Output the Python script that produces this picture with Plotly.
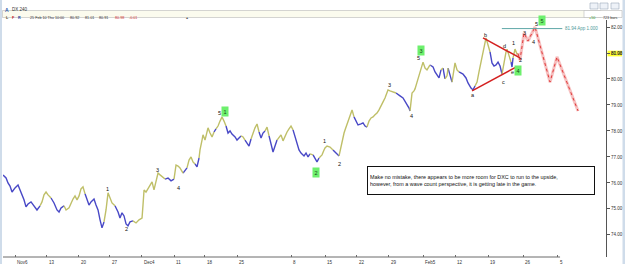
import plotly.graph_objects as go

# ---------------- data (trading days from Nov 6, price) ----------------
days = [-1.85, -1.38, -1.08, -0.77, -0.46, 0.0, 0.46, 0.77, 1.08, 1.38, 1.69, 2.0, 2.46, 2.92, 3.38, 3.85,
        4.15, 4.46, 4.77, 5.08, 5.54, 6.0, 6.46, 6.77, 7.08, 7.54, 7.85, 8.31, 8.62, 8.92, 9.23, 9.54,
        9.85, 10.15, 10.46, 10.77, 11.08, 11.38, 11.69, 12.15, 12.46, 12.77, 13.08, 13.38, 13.69, 14.0,
        14.31, 14.62, 14.92, 15.38, 15.85, 16.15, 16.46, 16.77, 17.08, 17.38, 17.69, 18.15, 18.62, 19.08,
        19.54, 19.69, 19.85, 20.15, 20.46, 20.77, 21.08, 21.38, 21.69, 22.0,
        22.31, 22.62, 23.08, 23.54, 24.0, 24.46, 24.77, 25.08, 25.38, 25.85, 26.15, 26.46, 26.77, 27.08,
        27.38, 27.69, 28.0, 28.31, 28.46, 28.77, 28.92, 29.23, 29.54, 29.69, 30.0, 30.31, 30.62, 30.92,
        31.23, 31.54, 31.85, 32.15, 32.46, 32.77, 33.08, 33.38, 33.85, 34.15, 34.46, 34.77, 35.08, 35.38,
        35.69, 36.0, 36.31, 36.62, 36.92, 37.23, 37.54, 37.85, 38.15, 38.46, 38.77, 39.08, 39.38, 39.69,
        40.0, 40.31, 40.62, 40.92, 41.23, 41.54, 41.85, 42.15, 42.46, 42.77, 43.08, 43.38, 43.69, 44.0,
        44.46, 44.77, 45.08,
        45.38, 45.85, 46.15, 46.46, 46.77, 47.23, 47.54, 47.69, 48.0, 48.46, 48.92, 49.23, 49.54, 49.85,
        50.15, 50.31, 50.62, 50.77, 51.08, 51.23, 51.54, 51.85, 52.15, 52.46, 52.77, 53.23, 53.54, 53.85,
        54.15, 54.46, 54.77, 55.08, 55.38, 55.69, 56.0, 56.31, 56.62, 56.92, 57.23, 57.38, 57.69, 58.15,
        58.62, 58.92, 59.23, 59.69, 60.0, 60.31, 60.62, 60.77, 60.92, 61.08, 61.38, 61.54, 61.85, 62.15,
        62.46, 62.77, 63.08, 63.38, 63.85, 64.31, 64.62, 64.92, 65.23, 65.54, 65.85, 66.15, 66.46, 66.62,
        66.92, 67.23, 67.54, 67.69, 68.0, 68.31, 68.62, 68.92, 69.38, 69.69, 70.15, 70.46, 70.77, 71.08,
        71.38, 71.54, 71.85, 72.0, 72.31, 72.46, 72.77, 73.08, 73.38, 73.69, 74.0, 74.31, 74.62, 74.92,
        75.23, 75.54, 75.69, 76.0, 76.31, 76.46, 76.62, 76.92, 77.23, 77.38]
prices = [76.31, 76.19, 76.00, 75.88, 75.65, 75.81, 75.92, 75.73, 75.58, 75.35, 75.08, 75.19, 75.27, 75.12, 74.96, 75.12,
          75.27, 75.54, 75.65, 75.54, 75.42, 75.23, 74.96, 74.88, 75.04, 75.12, 74.96, 75.04, 75.23, 75.38, 75.50, 75.35,
          75.50, 75.77, 75.85, 75.58, 75.35, 75.15, 75.27, 75.38, 75.15, 74.96, 74.58, 74.27, 74.50, 74.96,
          75.62, 75.42, 75.23, 75.12, 74.88, 74.65, 74.85, 74.73, 74.42, 74.35, 74.50, 74.54, 74.46, 74.58,
          74.65, 75.15, 75.73, 75.65, 75.77, 75.92, 76.04, 75.73, 76.12, 76.38,
          76.31, 76.23, 76.15, 76.19, 76.08, 76.15, 76.69, 76.65, 76.58, 76.38, 76.46, 76.58, 76.88, 77.00,
          76.81, 76.73, 76.62, 76.96, 77.27, 77.65, 77.85, 77.65, 77.96, 78.12, 77.92, 77.77, 77.96, 78.08,
          78.19, 78.38, 78.54, 78.38, 78.19, 77.92, 78.00, 77.88, 77.77, 77.65, 77.73, 77.81, 77.77, 77.65,
          77.54, 77.42, 77.69, 77.96, 78.12, 78.27, 77.96, 77.73, 77.92, 78.00, 78.15, 77.81, 77.46, 77.19,
          77.42, 77.65, 77.77, 77.85, 77.62, 77.81, 77.96, 78.08, 78.19, 78.04, 77.77, 77.46, 77.27, 77.15,
          77.04, 77.15, 77.00,
          77.12, 77.08, 76.92, 76.81, 76.96, 77.08, 77.27, 77.35, 77.42, 77.38, 77.27, 77.19, 77.12, 77.04,
          77.42, 77.65, 77.92, 78.04, 78.27, 78.42, 78.62, 78.81, 78.54, 78.38, 78.23, 78.27, 78.31, 78.19,
          78.15, 78.38, 78.50, 78.54, 78.62, 78.69, 78.81, 79.00, 79.12, 79.27, 79.46, 79.58, 79.54, 79.50,
          79.46, 79.42, 79.35, 79.27, 79.15, 79.04, 78.88, 78.77, 79.27, 79.46, 79.54, 79.62, 79.88, 80.12,
          80.35, 80.65, 80.42, 80.35, 80.54, 80.46, 80.27, 80.15, 80.04, 80.35, 80.42, 80.00, 80.12, 80.42,
          80.15, 79.88, 80.35, 80.62, 80.35, 80.27, 80.23, 80.19, 80.04, 79.85, 79.65, 79.58, 79.73, 79.88,
          80.27, 80.46, 80.81, 80.92, 81.42, 81.58, 81.31, 81.04, 80.62, 80.50, 80.54, 80.65, 80.50, 80.19,
          80.65, 81.04, 81.15, 80.92, 80.65, 80.46, 80.81, 81.15, 80.96, 80.98]

proj_days = [77.38, 77.69, 78.31, 78.92, 80.0, 82.31, 83.38, 86.62]
proj_prices = [80.98, 80.73, 81.77, 81.46, 82.0, 79.88, 80.85, 78.77]

tri_upper_days = [72.0, 77.69]
tri_upper_prices = [81.58, 80.81]
tri_lower_days = [70.31, 77.08]
tri_lower_prices = [79.54, 80.46]

target_price = 81.94
target_days = [74.9, 84.2]
target_label = "81.94 App 1.000"

wave_text = ["1", "2", "3", "4", "5", "1", "2", "3", "4", "5", "a", "b", "c", "d", "e", "1", "2", "3", "4", "5"]
wave_day = [14.15, 17.08, 21.85, 25.08, 31.4, 47.54, 49.85, 57.54, 60.92, 62.0, 70.46, 72.31, 75.08, 75.23, 76.46,
            76.62, 77.69, 78.31, 79.69, 80.15]
wave_price = [75.77, 74.23, 76.50, 75.81, 78.69, 77.62, 76.73, 79.77, 78.58, 80.81, 79.38, 81.69, 79.88, 81.27, 80.27,
              81.38, 80.73, 81.77, 81.42, 82.12]

box_text = ["1", "2", "3", "4", "5"]
box_day = [32.31, 46.31, 62.46, 77.38, 81.08]
box_price = [78.73, 76.42, 81.08, 80.31, 82.27]

tick_days = [0, 4.9, 9.8, 14.6, 19.5, 24.5, 29.2, 34.2, 42.5, 47.7, 52.6, 57.5, 62.8, 67.7, 72.8, 78.2, 83.5]
tick_labels = ["Nov6", "13", "20", "27", "Dec4", "11", "18", "25", "8", "15", "22", "29", "Feb5", "12", "19", "26", "5"]
price_ticks = [74, 75, 76, 77, 78, 79, 80, 81, 82]
last_price = 80.98

note = ("Make no mistake, there appears to be more room for DXC to run to the upside,<br>"
        "however, from a wave count perspective, it is getting late in the game.")

# ---------------- figure ----------------
BLUE = "#4848c6"
OLIVE = "#bfbf68"
FONT = "Liberation Sans"

def PX(x):
    return (x - 3) / 603.0

def PY(y):
    return (257 - y) / 237.0

segs = {BLUE: ([], []), OLIVE: ([], [])}
for i in range(1, len(days)):
    ref = prices[max(0, i - 4)]
    c = BLUE if prices[i] < ref else OLIVE
    xs, ys = segs[c]
    if not xs or xs[-1] != days[i - 1]:
        if xs:
            xs.append(None)
            ys.append(None)
        xs.append(days[i - 1])
        ys.append(prices[i - 1])
    xs.append(days[i])
    ys.append(prices[i])

fig = go.Figure()
for c, (xs, ys) in segs.items():
    fig.add_trace(go.Scatter(x=xs, y=ys, mode="lines", line=dict(color=c, width=1.4),
                             hoverinfo="skip", showlegend=False))

fig.add_trace(go.Scatter(x=proj_days, y=proj_prices, mode="lines",
                         line=dict(color="rgba(240,150,150,0.6)", width=3), showlegend=False))
fig.add_trace(go.Scatter(x=proj_days, y=proj_prices, mode="lines",
                         line=dict(color="#e03a3a", width=1, dash="dot"), showlegend=False))
fig.add_trace(go.Scatter(x=tri_upper_days, y=tri_upper_prices, mode="lines",
                         line=dict(color="#d42020", width=1.5), showlegend=False))
fig.add_trace(go.Scatter(x=tri_lower_days, y=tri_lower_prices, mode="lines",
                         line=dict(color="#d42020", width=1.5), showlegend=False))
fig.add_trace(go.Scatter(x=target_days, y=[target_price, target_price], mode="lines",
                         line=dict(color="#5fa8a8", width=1), showlegend=False))

ann = []
for t, d, p in zip(wave_text, wave_day, wave_price):
    ann.append(dict(x=d, y=p, xref="x", yref="y", text=t, showarrow=False,
                    font=dict(family=FONT, size=5.5, color="#111111")))
for t, d, p in zip(box_text, box_day, box_price):
    ann.append(dict(x=d, y=p, xref="x", yref="y", text=t, showarrow=False, bgcolor="#6df06d",
                    borderpad=1.5, font=dict(family=FONT, size=5.5, color="#1a4a1a")))
ann.append(dict(x=target_days[1] + 0.1, y=target_price, xref="x", yref="y", text=target_label,
                showarrow=False, xanchor="left", font=dict(family=FONT, size=4.5, color="#4f9a9a")))
for d, t in zip(tick_days, tick_labels):
    ann.append(dict(x=d, y=0, xref="x", yref="paper", text=t, showarrow=False, xanchor="left",
                    yanchor="top", yshift=-0.5, font=dict(family=FONT, size=4.5, color="#333333")))
# note box
ann.append(dict(x=PX(367), y=PY(166), xref="paper", yref="paper", xanchor="left", yanchor="top",
                text=note, showarrow=False, align="left", width=222, height=23,
                bgcolor="white", bordercolor="#111111", borderwidth=1, borderpad=2,
                font=dict(family=FONT, size=5.4, color="#111111")))
# current price tag on axis
ann.append(dict(x=PX(609), y=last_price, xref="paper", yref="y", xanchor="left", text=f"{last_price:.2f}",
                showarrow=False, font=dict(family=FONT, size=4.5, color="#333333")))
# header texts
ann.append(dict(x=PX(10), y=PY(5), xref="paper", yref="paper", xanchor="left", text="DX 240",
                showarrow=False, font=dict(family=FONT, size=4.5, color="#333333")))
ann.append(dict(x=PX(3), y=PY(5), xref="paper", yref="paper", xanchor="left", text="<b>A</b>",
                showarrow=False, font=dict(family=FONT, size=5, color="#2a5aa8")))
hdr = [("<b>L</b>", 4, "#555522"), ("<b>F</b>", 10, "#c02020"), ("<b>R</b>", 16, "#2040a0"),
       ("25 Feb 10 Thu 10:00", 28, "#333333"), ("80.92", 68, "#333333"), ("81.01", 83, "#333333"),
       ("80.91", 97, "#333333"), ("80.98", 113, "#d03030"), ("-0.01", 127, "#d03030"),
       ("<b>+</b>", 184, "#222222"), ("+50", 587, "#2a9a2a"), ("723 bars", 601, "#333333")]
for t, x, c in hdr:
    ann.append(dict(x=PX(x), y=PY(14), xref="paper", yref="paper", xanchor="left", text=t,
                    showarrow=False, font=dict(family=FONT, size=3.7, color=c)))

shapes = [
    dict(type="rect", xref="paper", yref="paper", x0=PX(0), x1=PX(2), y0=PY(264), y1=PY(0),
         fillcolor="#cfdcea", line=dict(width=0), layer="below"),
    dict(type="rect", xref="paper", yref="paper", x0=PX(622.5), x1=PX(625), y0=PY(264), y1=PY(0),
         fillcolor="#cfdcea", line=dict(width=0), layer="below"),
    dict(type="rect", xref="paper", yref="paper", x0=PX(2.5), x1=PX(601), y0=PY(17.5), y1=PY(10.5),
         fillcolor="#fbfbee", line=dict(color="#b8b8b8", width=0.6), layer="below"),
    dict(type="rect", xref="paper", yref="paper", x0=PX(584), x1=PX(622), y0=PY(17.5), y1=PY(10.5),
         fillcolor="white", line=dict(color="#b8b8b8", width=0.6), layer="below"),
    dict(type="line", xref="x", yref="paper", x0=-1.85, x1=83.85, y0=0, y1=0,
         line=dict(color="#6a6a6a", width=1)),
    dict(type="rect", xref="paper", yref="y", x0=PX(607.5), x1=PX(622), y0=last_price - 0.11,
         y1=last_price + 0.11, fillcolor="#ffff30", line=dict(width=0), layer="below"),
]
for x0 in (590, 600, 611):
    shapes.append(dict(type="rect", xref="paper", yref="paper", x0=PX(x0), x1=PX(x0 + 8),
                       y0=PY(9), y1=PY(3), fillcolor="#eef2f8", line=dict(color="#9aa8b8", width=0.6)))

fig.update_layout(
    width=625, height=264, margin=dict(l=3, r=19, t=20, b=7),
    paper_bgcolor="white", plot_bgcolor="white",
    font=dict(family=FONT, size=5, color="#333333"),
    showlegend=False, annotations=ann, shapes=shapes,
    xaxis=dict(range=[-1.85, 90.92], showgrid=False, zeroline=False, showline=False,
               tickmode="array", tickvals=tick_days, ticktext=[""] * len(tick_days),
               ticks="inside", ticklen=2, tickcolor="#6a6a6a", showticklabels=False),
    yaxis=dict(range=[73.15, 82.27], side="right", showgrid=False, zeroline=False,
               showline=True, linecolor="#555555", linewidth=1, ticks="outside", ticklen=3,
               tickcolor="#555555", tickmode="array", tickvals=price_ticks,
               tickformat=".2f", tickfont=dict(family=FONT, size=4.5, color="#333333")),
)

fig.write_html("out.html")
